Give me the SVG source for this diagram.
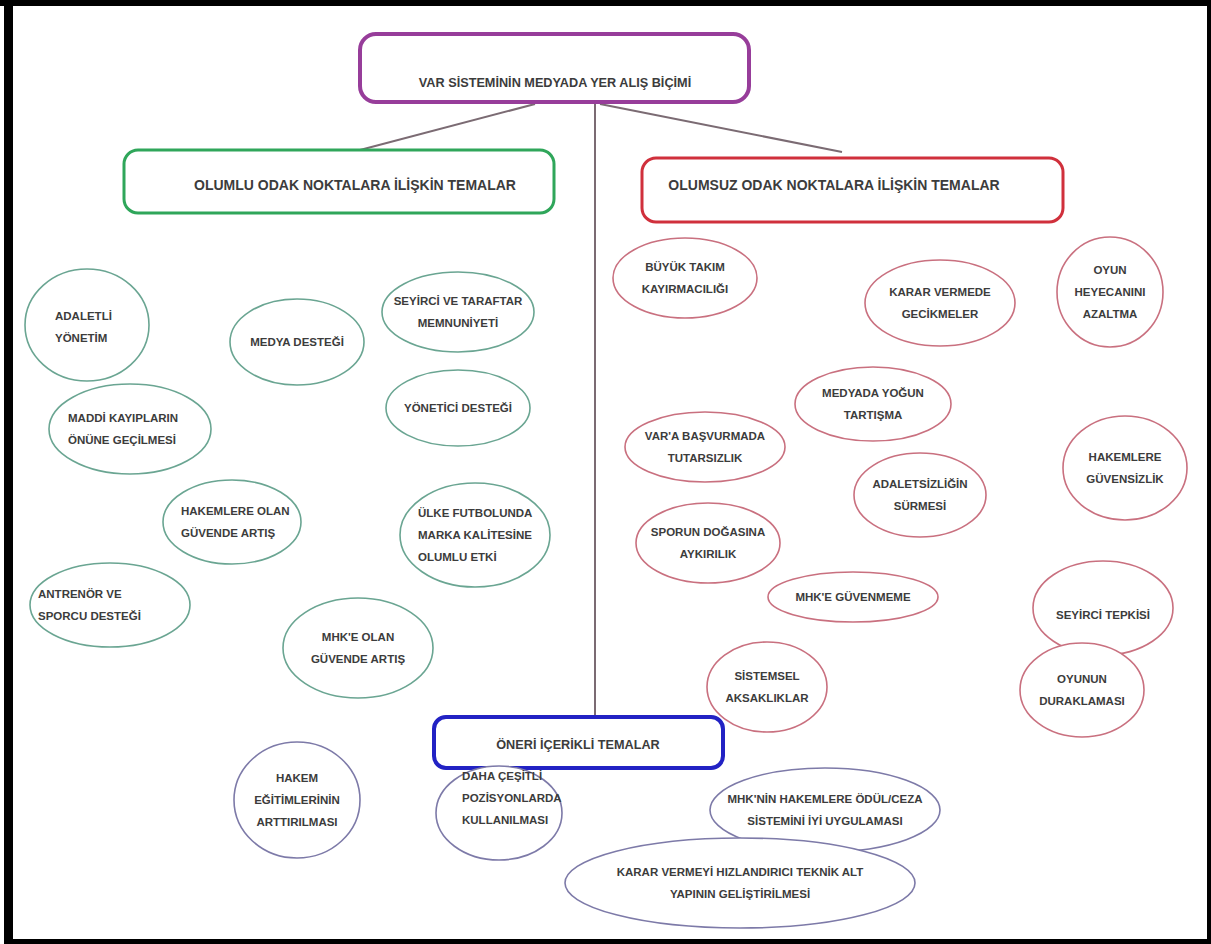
<svg xmlns="http://www.w3.org/2000/svg" width="1211" height="944" viewBox="0 0 1211 944">
  <style>
    .t { font-family: "Liberation Sans", Arial, sans-serif; font-weight: bold; font-size: 11.5px; fill: #3c3c3c; text-anchor: middle; }
    .l { text-anchor: start; }
    .h { font-size: 14px; }
    .m { font-size: 12.7px; }
    .pos { fill: #ffffff; stroke: #6aa592; stroke-width: 1.6; }
    .neg { fill: #ffffff; stroke: #c9707f; stroke-width: 1.6; }
    .sug { fill: #ffffff; stroke: #7d7aa8; stroke-width: 1.6; }
    .conn { stroke: #7b6b73; stroke-width: 2; fill: none; }
  </style>

  <!-- frame -->
  <rect x="0" y="0" width="1211" height="944" fill="#000000"/>
  <rect x="0" y="6" width="4" height="938" fill="#ffffff"/>
  <rect x="13" y="6" width="1194" height="933" fill="#ffffff"/>

  <!-- connectors -->
  <g id="connectors">
    <line class="conn" x1="535" y1="104" x2="360" y2="150"/>
    <line class="conn" x1="600" y1="104" x2="842" y2="152"/>
    <line class="conn" x1="595" y1="104" x2="595" y2="718" stroke-width="1.5"/>
  </g>

  <!-- theme boxes -->
  <g id="root">
    <rect x="360" y="34" width="389" height="68" rx="16" fill="#ffffff" stroke="#973d9a" stroke-width="4"/>
    <text class="t m" x="555" y="87">VAR SİSTEMİNİN MEDYADA YER ALIŞ BİÇİMİ</text>
  </g>
  <g id="positive">
    <rect x="124" y="150" width="430" height="63" rx="14" fill="#ffffff" stroke="#2fa65a" stroke-width="3"/>
    <text class="t h" x="355" y="190">OLUMLU ODAK NOKTALARA İLİŞKİN TEMALAR</text>
  </g>
  <g id="negative">
    <rect x="642" y="158" width="421" height="64" rx="14" fill="#ffffff" stroke="#d0303c" stroke-width="3"/>
    <text class="t h" x="834" y="190">OLUMSUZ ODAK NOKTALARA İLİŞKİN TEMALAR</text>
  </g>
  <g id="suggestions">
    <rect x="434" y="717" width="289" height="51" rx="12" fill="#ffffff" stroke="#2222c4" stroke-width="4"/>
    <text class="t m" x="578" y="749">ÖNERİ İÇERİKLİ TEMALAR</text>
  </g>

  <!-- positive themes -->
  <g id="p1"><ellipse class="pos" cx="87" cy="325" rx="62" ry="56"/>
    <text class="t l" x="55" y="320">ADALETLİ</text><text class="t l" x="55" y="342">YÖNETİM</text></g>
  <g id="p2"><ellipse class="pos" cx="297" cy="342" rx="67" ry="43"/>
    <text class="t" x="297" y="346">MEDYA DESTEĞİ</text></g>
  <g id="p3"><ellipse class="pos" cx="458" cy="312" rx="76" ry="40"/>
    <text class="t" x="458" y="305">SEYİRCİ VE TARAFTAR</text><text class="t" x="458" y="327">MEMNUNİYETİ</text></g>
  <g id="p4"><ellipse class="pos" cx="458" cy="408" rx="72" ry="38"/>
    <text class="t" x="458" y="412">YÖNETİCİ DESTEĞİ</text></g>
  <g id="p5"><ellipse class="pos" cx="130" cy="429" rx="81" ry="45"/>
    <text class="t l" x="68" y="422">MADDİ KAYIPLARIN</text><text class="t l" x="68" y="444">ÖNÜNE GEÇİLMESİ</text></g>
  <g id="p6"><ellipse class="pos" cx="232" cy="522" rx="69" ry="42"/>
    <text class="t l" x="181" y="515">HAKEMLERE OLAN</text><text class="t l" x="181" y="537">GÜVENDE ARTIŞ</text></g>
  <g id="p7"><ellipse class="pos" cx="475" cy="535" rx="75" ry="52"/>
    <text class="t l" x="418" y="517">ÜLKE FUTBOLUNDA</text><text class="t l" x="418" y="539">MARKA KALİTESİNE</text><text class="t l" x="418" y="561">OLUMLU ETKİ</text></g>
  <g id="p8"><ellipse class="pos" cx="110" cy="605" rx="80" ry="42"/>
    <text class="t l" x="38" y="598">ANTRENÖR VE</text><text class="t l" x="38" y="620">SPORCU DESTEĞİ</text></g>
  <g id="p9"><ellipse class="pos" cx="358" cy="648" rx="75" ry="50"/>
    <text class="t" x="358" y="641">MHK'E OLAN</text><text class="t" x="358" y="663">GÜVENDE ARTIŞ</text></g>

  <!-- negative themes -->
  <g id="n1"><ellipse class="neg" cx="685" cy="278" rx="72" ry="40"/>
    <text class="t" x="685" y="271">BÜYÜK TAKIM</text><text class="t" x="685" y="293">KAYIRMACILIĞI</text></g>
  <g id="n2"><ellipse class="neg" cx="940" cy="303" rx="75" ry="43"/>
    <text class="t" x="940" y="296">KARAR VERMEDE</text><text class="t" x="940" y="318">GECİKMELER</text></g>
  <g id="n3"><ellipse class="neg" cx="1110" cy="292" rx="53" ry="55"/>
    <text class="t" x="1110" y="274">OYUN</text><text class="t" x="1110" y="296">HEYECANINI</text><text class="t" x="1110" y="318">AZALTMA</text></g>
  <g id="n4"><ellipse class="neg" cx="873" cy="404" rx="78" ry="37"/>
    <text class="t" x="873" y="397">MEDYADA YOĞUN</text><text class="t" x="873" y="419">TARTIŞMA</text></g>
  <g id="n5"><ellipse class="neg" cx="705" cy="447" rx="80" ry="35"/>
    <text class="t" x="705" y="440">VAR'A BAŞVURMADA</text><text class="t" x="705" y="462">TUTARSIZLIK</text></g>
  <g id="n6"><ellipse class="neg" cx="1125" cy="468" rx="62" ry="52"/>
    <text class="t" x="1125" y="461">HAKEMLERE</text><text class="t" x="1125" y="483">GÜVENSİZLİK</text></g>
  <g id="n7"><ellipse class="neg" cx="920" cy="495" rx="66" ry="42"/>
    <text class="t" x="920" y="488">ADALETSİZLİĞİN</text><text class="t" x="920" y="510">SÜRMESİ</text></g>
  <g id="n8"><ellipse class="neg" cx="708" cy="543" rx="72" ry="40"/>
    <text class="t" x="708" y="536">SPORUN DOĞASINA</text><text class="t" x="708" y="558">AYKIRILIK</text></g>
  <g id="n9"><ellipse class="neg" cx="853" cy="597" rx="85" ry="25"/>
    <text class="t" x="853" y="601">MHK'E GÜVENMEME</text></g>
  <g id="n10"><ellipse class="neg" cx="1103" cy="608" rx="70" ry="47"/>
    <text class="t" x="1103" y="619">SEYİRCİ TEPKİSİ</text></g>
  <g id="n11"><ellipse class="neg" cx="767" cy="687" rx="60" ry="45"/>
    <text class="t" x="767" y="680">SİSTEMSEL</text><text class="t" x="767" y="702">AKSAKLIKLAR</text></g>
  <g id="n12"><ellipse class="neg" cx="1082" cy="690" rx="62" ry="47"/>
    <text class="t" x="1082" y="683">OYUNUN</text><text class="t" x="1082" y="705">DURAKLAMASI</text></g>

  <!-- suggestion themes -->
  <g id="s1"><ellipse class="sug" cx="297" cy="800" rx="63" ry="58"/>
    <text class="t" x="297" y="782">HAKEM</text><text class="t" x="297" y="804">EĞİTİMLERİNİN</text><text class="t" x="297" y="826">ARTTIRILMASI</text></g>
  <g id="s2"><ellipse class="sug" cx="499" cy="813" rx="63" ry="47"/>
    <text class="t l" x="462" y="780">DAHA ÇEŞİTLİ</text><text class="t l" x="462" y="802">POZİSYONLARDA</text><text class="t l" x="462" y="824">KULLANILMASI</text></g>
  <g id="s3"><ellipse class="sug" cx="825" cy="810" rx="115" ry="42"/>
    <text class="t" x="825" y="803">MHK'NİN HAKEMLERE ÖDÜL/CEZA</text><text class="t" x="825" y="825">SİSTEMİNİ İYİ UYGULAMASI</text></g>
  <g id="s4"><ellipse class="sug" cx="740" cy="883" rx="175" ry="45"/>
    <text class="t" x="740" y="876">KARAR VERMEYİ HIZLANDIRICI TEKNİK ALT</text><text class="t" x="740" y="898">YAPININ GELİŞTİRİLMESİ</text></g>
</svg>
